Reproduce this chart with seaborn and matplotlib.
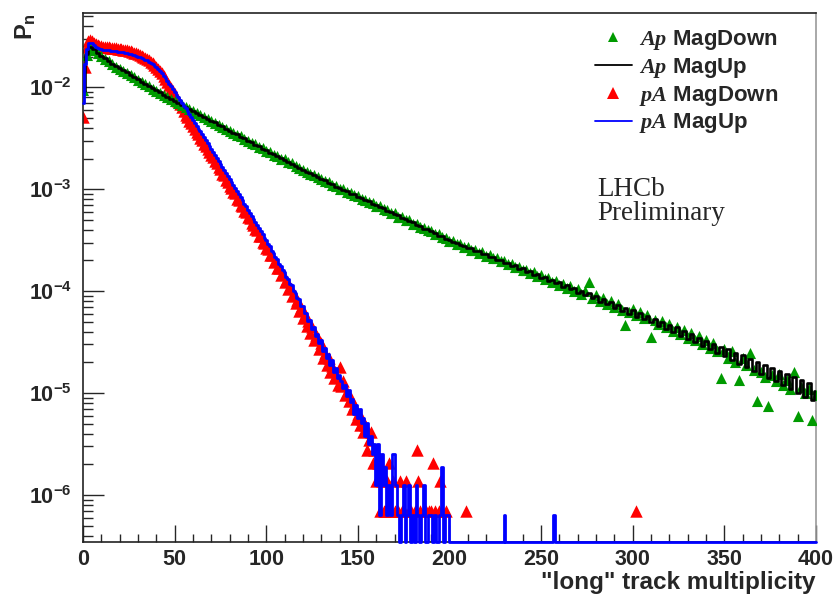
import numpy as np
import matplotlib
matplotlib.use("Agg")
import matplotlib.pyplot as plt
import seaborn as sns
from matplotlib.lines import Line2D
from matplotlib.ticker import FixedLocator, LogLocator, NullFormatter, FuncFormatter, MultipleLocator

# ---------------- data ----------------
# Ap sample: every second multiplicity bin, 0..400
ap_x = list(range(0, 401, 2))
ap_magup = [
    9.3e-3, 2.12e-2, 2.50e-2, 2.36e-2, 2.18e-2, 2.05e-2, 1.92e-2, 1.81e-2, 1.71e-2, 1.62e-2,
    1.54e-2, 1.49e-2, 1.40e-2, 1.33e-2, 1.26e-2, 1.21e-2, 1.14e-2, 1.09e-2, 1.03e-2, 9.8e-3,
    9.35e-3, 8.9e-3, 8.45e-3, 8.1e-3, 7.75e-3, 7.4e-3, 7.05e-3, 6.75e-3, 6.45e-3, 6.15e-3,
    5.9e-3, 5.60e-3, 5.40e-3, 5.12e-3, 4.93e-3, 4.68e-3, 4.52e-3, 4.28e-3, 4.13e-3, 3.91e-3,
    3.77e-3, 3.57e-3, 3.45e-3, 3.27e-3, 3.16e-3, 2.98e-3, 2.88e-3, 2.73e-3, 2.63e-3, 2.49e-3,
    2.41e-3, 2.28e-3, 2.20e-3, 2.10e-3, 2.03e-3, 1.94e-3, 1.87e-3, 1.77e-3, 1.71e-3, 1.61e-3,
    1.56e-3, 1.47e-3, 1.44e-3, 1.37e-3, 1.33e-3, 1.25e-3, 1.23e-3, 1.15e-3, 1.13e-3, 1.06e-3,
    1.03e-3, 9.8e-4, 9.6e-4, 9.0e-4, 8.9e-4, 8.4e-4, 8.2e-4, 7.8e-4, 7.7e-4, 7.2e-4,
    7.05e-4, 6.7e-4, 6.5e-4, 6.15e-4, 6.0e-4, 5.7e-4, 5.55e-4, 5.25e-4, 5.15e-4, 4.85e-4,
    4.75e-4, 4.45e-4, 4.4e-4, 4.1e-4, 4.05e-4, 3.85e-4, 3.75e-4, 3.5e-4, 3.5e-4, 3.25e-4,
    3.2e-4, 3.03e-4, 3.0e-4, 2.82e-4, 2.8e-4, 2.64e-4, 2.63e-4, 2.47e-4, 2.47e-4, 2.32e-4,
    2.31e-4, 2.17e-4, 2.18e-4, 2.03e-4, 2.04e-4, 1.9e-4, 1.9e-4, 1.78e-4, 1.79e-4, 1.66e-4,
    1.67e-4, 1.55e-4, 1.57e-4, 1.45e-4, 1.47e-4, 1.36e-4, 1.38e-4, 1.27e-4, 1.30e-4, 1.19e-4,
    1.22e-4, 1.10e-4, 1.14e-4, 1.04e-4, 1.08e-4, 9.7e-5, 1.0e-4, 9.1e-5, 9.5e-5, 8.5e-5,
    8.9e-5, 7.9e-5, 8.3e-5, 7.4e-5, 7.8e-5, 6.9e-5, 7.3e-5, 6.4e-5, 6.9e-5, 6.0e-5,
    6.5e-5, 5.6e-5, 6.1e-5, 5.3e-5, 5.7e-5, 5.0e-5, 5.3e-5, 4.6e-5, 5.0e-5, 4.3e-5,
    4.7e-5, 3.95e-5, 4.4e-5, 3.65e-5, 4.1e-5, 3.4e-5, 3.8e-5, 3.15e-5, 3.5e-5, 2.9e-5,
    3.25e-5, 2.7e-5, 3.05e-5, 2.5e-5, 2.85e-5, 2.3e-5, 2.7e-5, 2.1e-5, 2.5e-5, 1.95e-5,
    2.35e-5, 1.8e-5, 2.15e-5, 1.65e-5, 2.0e-5, 1.55e-5, 1.9e-5, 1.4e-5, 1.75e-5, 1.3e-5,
    1.65e-5, 1.2e-5, 1.55e-5, 1.1e-5, 1.45e-5, 1.0e-5, 1.35e-5, 0.92e-5, 1.25e-5, 0.85e-5,
    1.05e-5,
]
ap_magdown = [
    9.5e-3, 2.06e-2, 2.42e-2, 2.32e-2, 2.17e-2, 2.02e-2, 1.90e-2, 1.80e-2, 1.69e-2, 1.60e-2,
    1.53e-2, 1.46e-2, 1.38e-2, 1.31e-2, 1.25e-2, 1.19e-2, 1.14e-2, 1.08e-2, 1.02e-2, 9.7e-3,
    9.2e-3, 8.85e-3, 8.45e-3, 8.05e-3, 7.7e-3, 7.35e-3, 7.05e-3, 6.75e-3, 6.4e-3, 6.15e-3,
    5.85e-3, 5.6e-3, 5.35e-3, 5.1e-3, 4.9e-3, 4.7e-3, 4.45e-3, 4.3e-3, 4.1e-3, 3.9e-3,
    3.75e-3, 3.6e-3, 3.42e-3, 3.3e-3, 3.12e-3, 3.0e-3, 2.85e-3, 2.75e-3, 2.6e-3, 2.52e-3,
    2.38e-3, 2.3e-3, 2.17e-3, 2.12e-3, 2.0e-3, 1.96e-3, 1.85e-3, 1.79e-3, 1.69e-3, 1.63e-3,
    1.54e-3, 1.49e-3, 1.42e-3, 1.38e-3, 1.31e-3, 1.27e-3, 1.2e-3, 1.17e-3, 1.11e-3, 1.08e-3,
    1.01e-3, 9.95e-4, 9.4e-4, 9.15e-4, 8.7e-4, 8.55e-4, 8.0e-4, 7.9e-4, 7.5e-4, 7.3e-4,
    6.9e-4, 6.8e-4, 6.4e-4, 6.25e-4, 5.9e-4, 5.8e-4, 5.4e-4, 5.35e-4, 5.0e-4, 4.95e-4,
    4.6e-4, 4.55e-4, 4.3e-4, 4.2e-4, 3.95e-4, 3.9e-4, 3.65e-4, 3.6e-4, 3.4e-4, 3.35e-4,
    3.1e-4, 3.1e-4, 2.9e-4, 2.9e-4, 2.7e-4, 2.72e-4, 2.55e-4, 2.55e-4, 2.38e-4, 2.4e-4,
    2.22e-4, 2.25e-4, 2.1e-4, 2.12e-4, 1.96e-4, 1.98e-4, 1.83e-4, 1.85e-4, 1.72e-4, 1.74e-4,
    1.6e-4, 1.63e-4, 1.5e-4, 1.53e-4, 1.4e-4, 1.44e-4, 1.31e-4, 1.35e-4, 1.23e-4, 1.26e-4,
    1.15e-4, 1.18e-4, 1.08e-4, 1.12e-4, 1.01e-4, 1.05e-4, 9.4e-5, 1.0e-4, 1.22e-4, 8.6e-5,
    9.2e-5, 8.0e-5, 8.6e-5, 7.5e-5, 8.0e-5, 7.0e-5, 7.5e-5, 6.6e-5, 4.7e-5, 6.2e-5,
    6.7e-5, 5.8e-5, 6.2e-5, 5.4e-5, 5.8e-5, 3.55e-5, 5.2e-5, 4.8e-5, 5.1e-5, 4.4e-5,
    4.8e-5, 4.1e-5, 4.5e-5, 3.8e-5, 4.2e-5, 3.5e-5, 3.9e-5, 3.3e-5, 3.6e-5, 3.0e-5,
    3.35e-5, 2.8e-5, 3.1e-5, 2.6e-5, 1.4e-5, 2.7e-5, 2.2e-5, 2.6e-5, 2.0e-5, 1.35e-5,
    2.2e-5, 1.9e-5, 2.45e-5, 1.7e-5, 8.3e-6, 1.6e-5, 1.45e-5, 7.4e-6, 1.5e-5, 1.3e-5,
    1.55e-5, 1.2e-5, 1.35e-5, 1.1e-5, 1.62e-5, 6.0e-6, 1.15e-5, 1.0e-5, 1.1e-5, 5.5e-6,
    9.5e-6,
]

# pA MagUp: every bin 0..201, then the isolated non-empty bins up to 400
pa_magup = [
    7.0e-3, 1.7e-2, 2.4e-2, 2.7e-2, 2.75e-2, 2.7e-2, 2.6e-2, 2.5e-2, 2.45e-2, 2.4e-2,
    2.37e-2, 2.35e-2, 2.32e-2, 2.31e-2, 2.3e-2, 2.29e-2, 2.27e-2, 2.26e-2, 2.25e-2, 2.24e-2,
    2.24e-2, 2.22e-2, 2.2e-2, 2.18e-2, 2.16e-2, 2.14e-2, 2.12e-2, 2.09e-2, 2.06e-2, 2.03e-2,
    2.0e-2, 1.97e-2, 1.94e-2, 1.91e-2, 1.87e-2, 1.84e-2, 1.79e-2, 1.74e-2, 1.69e-2, 1.63e-2,
    1.58e-2, 1.51e-2, 1.44e-2, 1.37e-2, 1.30e-2, 1.23e-2, 1.16e-2, 1.09e-2, 1.03e-2, 9.7e-3,
    9.1e-3, 8.5e-3, 8.0e-3, 7.5e-3, 7.0e-3, 6.6e-3, 6.2e-3, 5.8e-3, 5.45e-3, 5.1e-3,
    4.8e-3, 4.49e-3, 4.2e-3, 3.94e-3, 3.69e-3, 3.47e-3, 3.25e-3, 3.04e-3, 2.85e-3, 2.67e-3,
    2.51e-3, 2.34e-3, 2.19e-3, 2.04e-3, 1.91e-3, 1.78e-3, 1.66e-3, 1.55e-3, 1.45e-3, 1.35e-3,
    1.26e-3, 1.17e-3, 1.10e-3, 1.02e-3, 9.55e-4, 8.9e-4, 8.3e-4, 7.8e-4, 7.2e-4, 6.8e-4,
    6.3e-4, 5.9e-4, 5.5e-4, 5.1e-4, 4.8e-4, 4.45e-4, 4.2e-4, 3.85e-4, 3.65e-4, 3.35e-4,
    3.2e-4, 2.9e-4, 2.75e-4, 2.5e-4, 2.38e-4, 2.15e-4, 2.06e-4, 1.86e-4, 1.78e-4, 1.6e-4,
    1.54e-4, 1.37e-4, 1.33e-4, 1.17e-4, 1.14e-4, 1.0e-4, 9.7e-5, 8.5e-5, 8.3e-5, 7.2e-5,
    7.1e-5, 6.1e-5, 6.1e-5, 5.1e-5, 5.2e-5, 4.3e-5, 4.5e-5, 3.6e-5, 3.8e-5, 3.1e-5,
    3.3e-5, 2.6e-5, 2.8e-5, 2.2e-5, 2.4e-5, 1.9e-5, 2.1e-5, 1.6e-5, 1.75e-5, 1.4e-5,
    1.5e-5, 1.323e-5, 1.134e-5, 1.197e-5, 9.45e-6, 1.071e-5, 8.19e-6, 8.82e-6, 6.3e-6, 7.56e-6,
    5.67e-6, 6.93e-6, 5.04e-6, 5.67e-6, 3.78e-6, 5.04e-6, 3.15e-6, 3.78e-6, 2.52e-6, 3.15e-6,
    1.26e-6, 3.15e-6, 6.3e-7, 2.52e-6, 1.26e-6, 1.89e-6, 6.3e-7, 1.26e-6, 6.3e-7, 2.52e-6,
    2.52e-6, 1.26e-6, 6.3e-7, 0, 6.3e-7, 1.26e-6, 0, 6.3e-7, 1.26e-6, 0,
    6.3e-7, 0, 1.26e-6, 6.3e-7, 0, 6.3e-7, 1.26e-6, 0, 0, 6.3e-7,
    6.3e-7, 0, 6.3e-7, 0, 0, 6.3e-7, 1.89e-6, 0, 6.3e-7, 6.3e-7,
    0, 0,
]
pa_magup_x = list(range(len(pa_magup))) + [229, 230, 231, 256, 257, 258, 400]
pa_magup_y = pa_magup + [0, 6.3e-7, 0, 0, 6.3e-7, 0, 0]

# pA MagDown: every bin 0..209 plus one isolated entry
pa_magdown = [
    5.1e-3, 1.6e-2, 2.5e-2, 2.85e-2, 2.9e-2, 2.85e-2, 2.75e-2, 2.67e-2, 2.6e-2, 2.56e-2,
    2.53e-2, 2.5e-2, 2.48e-2, 2.47e-2, 2.46e-2, 2.45e-2, 2.44e-2, 2.42e-2, 2.41e-2, 2.4e-2,
    2.39e-2, 2.37e-2, 2.35e-2, 2.33e-2, 2.31e-2, 2.28e-2, 2.25e-2, 2.22e-2, 2.19e-2, 2.16e-2,
    2.12e-2, 2.08e-2, 2.04e-2, 2.0e-2, 1.96e-2, 1.91e-2, 1.85e-2, 1.79e-2, 1.73e-2, 1.66e-2,
    1.6e-2, 1.52e-2, 1.44e-2, 1.37e-2, 1.29e-2, 1.21e-2, 1.13e-2, 1.06e-2, 9.9e-3, 9.2e-3,
    8.6e-3, 8.0e-3, 7.4e-3, 6.9e-3, 6.4e-3, 5.9e-3, 5.4e-3, 5.08e-3, 4.72e-3, 4.46e-3,
    4.15e-3, 3.93e-3, 3.63e-3, 3.45e-3, 3.19e-3, 3.04e-3, 2.81e-3, 2.66e-3, 2.46e-3, 2.34e-3,
    2.16e-3, 2.06e-3, 1.88e-3, 1.79e-3, 1.64e-3, 1.57e-3, 1.42e-3, 1.37e-3, 1.24e-3, 1.19e-3,
    1.08e-3, 1.04e-3, 9.4e-4, 9.1e-4, 8.1e-4, 7.9e-4, 7.0e-4, 6.9e-4, 6.1e-4, 6.0e-4,
    5.3e-4, 5.2e-4, 4.7e-4, 4.5e-4, 4.05e-4, 3.95e-4, 3.5e-4, 3.45e-4, 3.05e-4, 3.0e-4,
    2.65e-4, 2.62e-4, 2.28e-4, 2.26e-4, 1.95e-4, 1.96e-4, 1.68e-4, 1.7e-4, 1.43e-4, 1.48e-4,
    1.24e-4, 1.28e-4, 1.06e-4, 1.1e-4, 9.0e-5, 9.4e-5, 7.6e-5, 8.1e-5, 6.4e-5, 7.0e-5,
    5.4e-5, 6.0e-5, 4.6e-5, 5.1e-5, 3.9e-5, 4.5e-5, 3.3e-5, 3.7e-5, 3.5e-5, 2.7e-5,
    3.1e-5, 2.2e-5, 2.5e-5, 1.9e-5, 2.2e-5, 1.6e-5, 1.85e-5, 1.4e-5, 1.5e-5, 1.2e-5,
    1.8e-5, 1.173e-5, 1.311e-5, 9.66e-6, 1.035e-5, 8.28e-6, 8.97e-6, 6.9e-6, 7.59e-6, 5.52e-6,
    6.21e-6, 4.83e-6, 5.52e-6, 4.14e-6, 4.83e-6, 2.76e-6, 3.45e-6, 4.14e-6, 2.07e-6, 2.76e-6,
    1.38e-6, 2.07e-6, 6.9e-7, 1.38e-6, 6.9e-7, 6.9e-7, 1.38e-6, 2.07e-6, 6.9e-7, 1.38e-6,
    6.9e-7, 0, 6.9e-7, 1.38e-6, 6.9e-7, 6.9e-7, 1.38e-6, 0, 6.9e-7, 6.9e-7,
    0, 6.9e-7, 2.76e-6, 1.38e-6, 6.9e-7, 0, 6.9e-7, 6.9e-7, 0, 6.9e-7,
    6.9e-7, 2.07e-6, 6.9e-7, 0, 6.9e-7, 1.38e-6, 6.9e-7, 0, 6.9e-7, 0,
    0, 0, 0, 0, 0, 0, 0, 0, 0, 6.9e-7,
]
pa_magdown_x = list(range(len(pa_magdown))) + [302]
pa_magdown_y = pa_magdown + [6.9e-7]

x_ticks = [0, 50, 100, 150, 200, 250, 300, 350, 400]
y_ticks = [1e-6, 1e-5, 1e-4, 1e-3, 1e-2]
labels = [r"$\mathit{Ap}$ MagDown", r"$\mathit{Ap}$ MagUp",
          r"$\mathit{pA}$ MagDown", r"$\mathit{pA}$ MagUp"]

# ---------------- style ----------------
sns.set_style("ticks")
plt.rcParams['font.family'] = ['Liberation Sans', 'DejaVu Sans']
plt.rcParams['font.weight'] = 'bold'
plt.rcParams['mathtext.fontset'] = 'custom'
plt.rcParams['mathtext.rm'] = 'Liberation Sans:bold'
plt.rcParams['mathtext.bf'] = 'Liberation Sans:bold'
plt.rcParams['mathtext.it'] = 'Liberation Serif:italic:bold'
plt.rcParams['mathtext.default'] = 'rm'

GREEN = '#009a00'
YMIN, YMAX = 3.48e-7, 5.4e-2

fig = plt.figure(figsize=(8.37, 5.95), dpi=100)
ax = fig.add_axes([83 / 837, 1 - 541.7 / 595, (816 - 83) / 837, (541.7 - 12.7) / 595])
ax.set_yscale('log')
ax.set_xlim(0, 400)
ax.set_ylim(YMIN, YMAX)

# pA MagDown (red triangles)
pd_x = np.array(pa_magdown_x)
pd_y = np.array(pa_magdown_y)
keep = pd_y > 0
sns.scatterplot(x=pd_x[keep], y=pd_y[keep], marker='^', s=80, color='red',
                linewidth=0, ax=ax, legend=False, zorder=2)

# pA MagUp (blue histogram line), empty bins drawn on the frame bottom
pu_y = np.array(pa_magup_y, dtype=float)
pu_y = np.where(pu_y > 0, pu_y, YMIN)
sns.lineplot(x=pa_magup_x, y=pu_y, ax=ax, color='blue', linewidth=2.0,
             drawstyle='steps-mid', estimator=None, sort=False, legend=False,
             clip_on=False, zorder=4)

# Ap MagDown (green triangles)
sns.scatterplot(x=ap_x, y=ap_magdown, marker='^', s=64, color=GREEN,
                linewidth=0, ax=ax, legend=False, zorder=3)
# Ap MagUp (black histogram line)
sns.lineplot(x=ap_x, y=ap_magup, ax=ax, color='black', linewidth=1.9,
             drawstyle='steps-mid', estimator=None, sort=False, legend=False, zorder=3.5)

# axes / ticks
ax.xaxis.set_major_locator(FixedLocator(x_ticks))
ax.xaxis.set_minor_locator(MultipleLocator(10))
ax.yaxis.set_major_locator(FixedLocator(y_ticks))
ax.yaxis.set_minor_locator(LogLocator(base=10, subs=np.arange(2, 10)))
ax.yaxis.set_major_formatter(FuncFormatter(lambda v, p: r"$10^{%d}$" % int(round(np.log10(v)))))
ax.yaxis.set_minor_formatter(NullFormatter())
ax.tick_params(axis='x', which='major', direction='in', length=12, width=1.0,
               top=False, labelsize=15.5, pad=5)
ax.tick_params(axis='x', which='minor', direction='in', length=6, width=1.0, top=False)
ax.tick_params(axis='y', which='major', direction='in', length=15, width=1.0,
               right=False, labelsize=15.5, pad=8)
ax.tick_params(axis='y', which='minor', direction='in', length=7, width=1.0, right=False)
for lab in ax.get_xticklabels() + ax.get_yticklabels():
    lab.set_fontweight('bold')
for side in ['left', 'bottom', 'top']:
    ax.spines[side].set_linewidth(1.2)
    ax.spines[side].set_color('#222222')
ax.spines['right'].set_linewidth(1.2)
ax.spines['right'].set_color('#9a9a9a')

ax.set_xlabel('"long" track multiplicity', fontsize=17.5, fontweight='bold', loc='right', labelpad=1)
ax.set_ylabel(r"$\mathrm{P_n}$", fontsize=17, loc='top')
ax.yaxis.set_label_coords(-0.062, 1.0)

# legend
handles = [
    Line2D([], [], ls='none', marker='^', color=GREEN, ms=7.5, mew=0),
    Line2D([], [], color='black', lw=1.3),
    Line2D([], [], ls='none', marker='^', color='red', ms=9, mew=0),
    Line2D([], [], color='blue', lw=1.3),
]
leg = ax.legend(handles, labels, loc='upper left',
                bbox_to_anchor=((595 - 83) / 733, (541.7 - 28) / 529),
                frameon=False, handlelength=1.66, handletextpad=0.3,
                labelspacing=0.17, borderpad=0, borderaxespad=0,
                prop={'weight': 'bold', 'size': 16})

fig.text(597 / 837, 1 - 190 / 595, 'LHCb', family='Liberation Serif', weight='normal',
         fontsize=19.5, va='center', ha='left')
fig.text(597 / 837, 1 - 213 / 595, 'Preliminary', family='Liberation Serif', weight='normal',
         fontsize=19.5, va='center', ha='left')

fig.savefig('out.png', dpi=100)
